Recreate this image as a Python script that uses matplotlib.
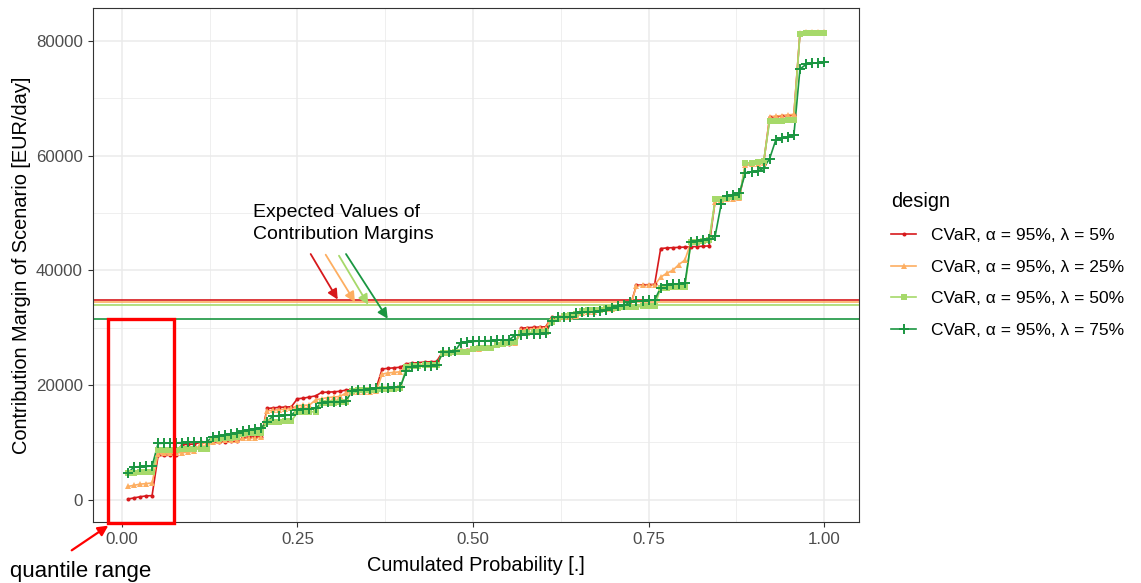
import numpy as np
import matplotlib
matplotlib.use("Agg")
import matplotlib.pyplot as plt
from matplotlib.patches import Rectangle
from matplotlib.legend_handler import HandlerTuple

plt.rcParams['font.family'] = ['Liberation Sans', 'DejaVu Sans']

# ---- data -----------------------------------------------------------------
n_scen = 116
cum_prob = np.arange(1, n_scen + 1) / n_scen

designs = ["CVaR, α = 95%, λ = 5%", "CVaR, α = 95%, λ = 25%",
           "CVaR, α = 95%, λ = 50%", "CVaR, α = 95%, λ = 75%"]
colors = ["#D7191C", "#FDAE61", "#A6D96A", "#1A9641"]

margin_l05 = [100, 300, 500, 650, 700,
              7700, 7700, 7750, 7800,
              9600, 9650, 9700,
              10000, 10050, 10050, 10100, 10100, 10150, 10200,
              10850, 10900, 10950, 11000,
              15900, 16000, 16100, 16150, 16200,
              17600, 17700, 17900, 18100,
              18700, 18750, 18800, 18900, 19100,
              19200, 19250, 19300, 19350, 19400,
              22800, 22900, 23000, 23100,
              23700, 23800, 23900, 24000, 24050, 24100,
              25800, 25900, 26000, 26050, 26100,
              26300, 26350, 26400, 26450,
              27000, 27100, 27200, 27250,
              29900, 30000, 30050, 30100, 30150,
              31800, 31900, 32000, 32050, 32100,
              32700, 32800, 32850,
              33200, 33300, 33350, 33400,
              33800, 33900,
              37400, 37450, 37500, 37550,
              43800, 43900, 43950, 44000, 44050, 44100, 44150, 44200, 44250,
              52200, 52300, 52400, 52500, 52600,
              58400, 58500, 58600, 58700,
              66700, 66800, 66900, 67000, 67100,
              81300, 81350, 81400, 81450, 81500]

margin_l25 = [2300, 2500, 2700, 2800, 2900,
              8000, 8050, 8100, 8150, 8200, 8300, 8400,
              9800, 9900, 10000,
              10300, 10350, 10400, 10450,
              10700, 10750, 10800, 10850,
              15500, 15600, 15700, 15800, 15900,
              16400, 16450, 16500,
              17400, 17600, 17800, 17900, 18000,
              18600, 18700, 18750, 18800, 18850, 18900,
              21900, 22100, 22200, 22300,
              23300, 23400, 23450, 23500, 23550, 23600,
              25600, 25700, 25800, 25900, 26000,
              26200, 26300, 26400, 26500,
              27100, 27200, 27300, 27400,
              29600, 29700, 29800, 29900, 30000,
              31600, 31700, 31800, 31900, 32000,
              32600, 32700, 32800,
              33100, 33200, 33300, 33400,
              33700, 33800,
              37300, 37350, 37400, 37450,
              38800, 39500, 40000, 41000, 41800,
              44900, 45000, 45100, 45200,
              52000, 52200, 52400, 52500, 52600,
              58400, 58500, 58600, 58700,
              66800, 66900, 67000, 67100, 67200,
              81400, 81500, 81500, 81600, 81600]

margin_l50 = [4700, 4700, 4750, 4750, 4800,
              8600, 8650, 8700, 8700, 8750, 8800, 8800, 8850, 8900,
              10600, 10650, 10700, 10800, 10900,
              11500, 11550, 11600, 11700,
              13500, 13550, 13600, 13650, 13700,
              15200, 15250, 15300, 15350,
              16800, 16850, 16900, 16950, 17000,
              19000, 19050, 19100, 19150, 19200, 19250, 19300, 19350, 19400,
              23200, 23300, 23350, 23400, 23450, 23500,
              25500, 25600, 25700, 25750, 25800,
              26300, 26400, 26450, 26500,
              27000, 27100, 27300, 27500,
              29100, 29150, 29200, 29250, 29300,
              31000, 31500, 32000, 32200, 32300,
              32900, 33000, 33050, 33100,
              33400, 33450, 33500, 33550, 33600, 33650, 33700, 33750, 33800,
              36900, 37000, 37050, 37100, 37150,
              44900, 45000, 45100, 45200,
              52400, 52500, 52600, 52700, 52800,
              58700, 58800, 58900, 59000,
              66000, 66050, 66100, 66150, 66200,
              81300, 81350, 81400, 81400, 81450]

margin_l75 = [4600,
              5700, 5750, 5800, 5850,
              9800, 9850, 9900, 9900, 9950, 10000, 10000, 10050, 10100,
              10900, 11100, 11300, 11500, 11700, 11900, 12100, 12300, 12500,
              13600,
              14600, 14650, 14700, 14750,
              15700, 15800, 15850, 15900,
              16900, 17000, 17050, 17100, 17150,
              19000, 19100, 19200, 19300, 19400, 19500, 19550, 19600, 19650,
              22500,
              23200, 23250, 23300, 23350, 23400,
              25700, 25800, 25850,
              27400, 27500, 27600, 27650, 27700, 27750, 27800, 27850, 27900,
              28700,
              28800, 28850, 28900, 28950, 29000,
              31200,
              31800, 31850, 31900,
              32600, 32700, 32750, 32800, 32850,
              33100, 33500, 33800, 33900, 34500,
              34600, 34700, 34750, 34800,
              37000,
              37500, 37600, 37650, 37700,
              44900, 45100, 45300,
              45500, 46000,
              51600,
              53000, 53200, 53400,
              57000, 57200, 57300,
              57800, 59500, 62700, 63000, 63300, 63600,
              75100,
              75900, 76100, 76200, 76300]

series = [margin_l05, margin_l25, margin_l50, margin_l75]
expected = [34900, 34450, 34000, 31550]

markers = [dict(marker="o", ms=2.9, mew=0),
           dict(marker="^", ms=4.2, mew=0),
           dict(marker="s", ms=5.0, mew=0),
           dict(marker="+", ms=7.0, mew=1.4)]

# ---- figure ---------------------------------------------------------------
W, H = 1141, 583
fig = plt.figure(figsize=(W / 100, H / 100), dpi=100)
ax = fig.add_axes([93 / W, 1 - 522 / H, (859 - 93) / W, (522 - 8) / H])

lines, pts = [], []
for y, c in zip(series, colors):
    ln, = ax.plot(cum_prob, y, color=c, lw=1.2, zorder=3)
    lines.append(ln)
for y, c, m in zip(series, colors, markers):
    p, = ax.plot(cum_prob, y, ls="none", color=c, zorder=4, **m)
    pts.append(p)

for e, c in zip(expected, colors):
    ax.axhline(e, color=c, lw=1.2, zorder=2)

ax.set_xlim(-0.041, 1.0496)
ax.set_ylim(-3900, 85750)
ax.set_xticks([0, 0.25, 0.5, 0.75, 1.0])
ax.set_xticklabels(["0.00", "0.25", "0.50", "0.75", "1.00"])
ax.set_yticks([0, 20000, 40000, 60000, 80000])
ax.set_yticklabels(["0", "20000", "40000", "60000", "80000"])
ax.set_xticks([0.125, 0.375, 0.625, 0.875], minor=True)
ax.set_yticks([10000, 30000, 50000, 70000], minor=True)
ax.grid(which="major", color="#EBEBEB", lw=1.1)
ax.grid(which="minor", color="#EBEBEB", lw=0.55)
ax.set_axisbelow(True)
ax.tick_params(which="major", length=3.8, width=0.8, color="#333333",
               labelcolor="#4D4D4D", labelsize=12.2, pad=3.5)
ax.tick_params(which="minor", length=0)
for s in ax.spines.values():
    s.set_color("#333333")
    s.set_linewidth(0.8)

fig.text(476 / W, 1 - 571 / H, "Cumulated Probability [.]", ha="center",
         va="baseline", fontsize=14.4)
fig.text(12 / W, 1 - 265 / H, "Contribution Margin of Scenario [EUR/day]",
         rotation=90, ha="left", va="center", fontsize=14.4)

# expected value annotation
fig.text(253 / W, 1 - 217 / H, "Expected Values of", fontsize=14, va="baseline")
fig.text(253 / W, 1 - 239 / H, "Contribution Margins", fontsize=14, va="baseline")
arrows = [((0.2689, 42840), (0.3074, 34900)),
          ((0.2903, 42720), (0.3320, 34450)),
          ((0.3092, 42545), (0.3509, 34000)),
          ((0.3192, 42840), (0.3786, 31550))]
for (xy0, xy1), c in zip(arrows, colors):
    ax.annotate("", xy=xy1, xytext=xy0,
                arrowprops=dict(arrowstyle="-|>", color=c, lw=1.3,
                                mutation_scale=15, shrinkA=0, shrinkB=0),
                zorder=6)

# quantile range box
ax.add_patch(Rectangle((-0.0192, -4050), 0.0935, 35500, fill=False,
                       ec="#FF0000", lw=2.4, clip_on=False, zorder=10))
ax.annotate("", xy=(-0.0192, -4530), xytext=(-0.0713, -8840),
            annotation_clip=False,
            arrowprops=dict(arrowstyle="-|>", color="#FF0000", lw=1.6,
                            mutation_scale=15, shrinkA=0, shrinkB=0))
fig.text(10 / W, 1 - 577 / H, "quantile range", fontsize=16, va="baseline")

leg = ax.legend(handles=list(zip(lines, pts)), labels=designs, title="design",
                handler_map={tuple: HandlerTuple(ndivide=1)},
                loc="upper left", bbox_to_anchor=(891 / W, 1 - 192 / H),
                bbox_transform=fig.transFigure, frameon=False, fontsize=12.5,
                title_fontsize=14.4, handlelength=1.45, handletextpad=0.85,
                labelspacing=0.96, borderpad=0, borderaxespad=0,
                alignment="left")

fig.savefig("out.png", dpi=100)
